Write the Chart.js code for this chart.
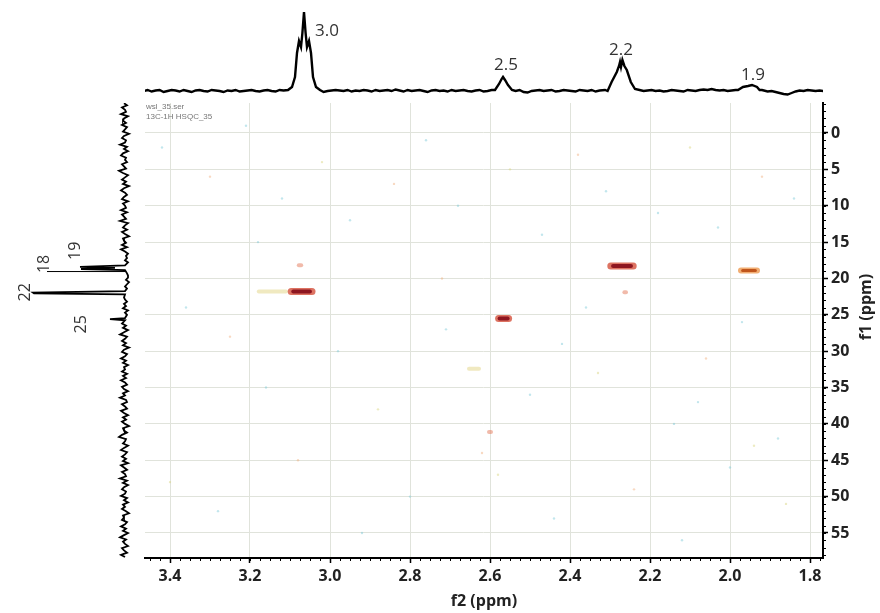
<!DOCTYPE html>
<html><head><meta charset="utf-8">
<script src="https://cdn.jsdelivr.net/npm/chart.js@4.4.1/dist/chart.umd.min.js"></script>
<style>
html,body{margin:0;padding:0;background:#fff;}
#wrap{position:relative;width:880px;height:613px;overflow:hidden;background:#fff;}
canvas{position:absolute;}
#main{left:0;top:0;width:880px;height:613px;}
#top{left:145px;top:0;width:678px;height:103px;}
#left{left:0;top:103px;width:145px;height:455px;}
</style></head><body>
<div id="wrap">
<canvas id="main" width="880" height="613"></canvas>
<canvas id="top" width="678" height="103"></canvas>
<canvas id="left" width="145" height="455"></canvas>
</div>
<script>
// ---------- axes ----------
const f2Ticks = [3.4, 3.2, 3.0, 2.8, 2.6, 2.4, 2.2, 2.0, 1.8];
const f1Ticks = [0, 5, 10, 15, 20, 25, 30, 35, 40, 45, 50, 55];
const f2Min = 1.7675, f2Max = 3.4625;
const f1Min = -4.125, f1Max = 58.44;
const fileLines = ['wsl_35.ser', '13C-1H HSQC_35'];

// ---------- 2D cross peaks (f2 ppm, f1 ppm, f2 extent, relative level) ----------
const crossF2 = [3.071, 3.075, 2.566, 2.270, 1.9525, 2.262, 2.640, 2.600, 3.144];
const crossF1 = [21.8, 18.2, 25.5, 18.3, 18.9, 21.9, 32.4, 41.1, 21.8];
const crossSpan = [0.052, 0.006, 0.025, 0.056, 0.040, 0.004, 0.025, 0.005, 0.068];
const crossLevel = [1.0, 0.3, 0.95, 1.0, 0.6, 0.3, 0.1, 0.25, 0.08];

// faint noise specks in the 2D map
const speckF2 = [3.42,3.30,3.21,3.12,3.02,2.95,2.84,2.76,2.68,2.55,2.47,2.38,2.31,2.18,2.10,2.03,1.92,1.84,3.36,3.25,3.16,2.98,2.88,2.71,2.62,2.50,2.42,2.33,2.14,2.06,1.97,1.88,3.40,3.28,3.08,2.92,2.80,2.58,2.44,2.24,2.12,2.00,1.86,3.18,2.72,2.36,2.08,1.94];
const speckF1 = [2,6,-1,9,4,12,7,1,10,5,14,3,8,11,2,13,6,9,24,28,35,30,38,27,44,36,29,33,40,31,26,42,48,52,45,55,50,47,53,49,56,46,51,15,20,24,37,43];
const speckKind = [0,1,0,0,2,0,1,0,0,2,0,1,0,0,2,0,1,0,0,1,0,0,2,0,1,0,0,2,0,1,0,0,2,0,1,0,0,2,0,1,0,0,2,0,1,0,0,2];

// ---------- top 1H projection ----------
const topStart = 3.466, topStep = -0.01;
const topNoise = [0,1,-0.5,0.5,1,-1,0,1,0.5,-0.5,
  1,0,-1,0.5,1,0,-0.5,1,0.5,0,
  -1,0.5,0,1,-0.5,0,0.5,1,0,-0.5,
  0.5,1,0,-0.5,1,0.5,-1,0,1,0.5,
  0,-0.5,1,0,0.5,-1,0,0.5,1,0.5,
  0,1,-0.5,0.5,0,1,0.5,-0.5,1,0,
  0.5,1,0,1.5,0.5,-0.5,1,0,0.5,1,
  0,-1,0.5,1,0,0.5,-0.5,1,0,0.5,
  1,0,-0.5,0.5,1,-0.5,0,1,0.5,0,
  -0.5,1,0.5,0,1,-1,-1.5,0,0.5,1,
  0,0.5,1,-0.5,0,1,0.5,0,-0.5,1,
  0.5,0,1,-0.5,0.5,1,0,0.5,-1,0,
  1,0.5,0,-0.5,1,0,0.5,1,0,0.5,
  -0.5,0,1,0.5,0,-0.5,1,0.5,0,1,
  1.5,1,2,1,0.5,1,0,0.5,1,0,
  0.5,1,0,0.5,1,0.5,-0.5,0,-1,-2,
  -3,-3.5,-2,-0.5,0.5,0,1,0.5,0,0.5,
  0];
const topPeakPpm = [3.105,3.095,3.0875,3.0825,3.0775,3.0725,3.069,3.065,3.061,3.0575,3.0525,3.0475,3.0425,3.035,3.025,
  2.5875,2.5775,2.571,2.5675,2.5625,2.555,2.545,
  2.3125,2.296,2.283,2.2775,2.275,2.2725,2.269,2.264,2.258,2.248,2.2375,
  1.98,1.9675,1.955,1.945,1.9325,1.92];
const topPeakInt = [1,4,14,38,50,44,58,79,58,44,50,38,14,4,1,
  1,7,12,14,11,6,1,
  1,9,19,25,29,24,31,25,21,9,2,
  1,4,5,6,4,1];
const topLabelText = ['3.0', '2.5', '2.2', '1.9'];
const topLabelPpm = [3.0075, 2.56, 2.2725, 1.9425];
const topLabelInt = [60, 26, 41, 16];

// ---------- left 13C projection ----------
const leftStart = -4.1, leftStep = 0.3;
const leftNoise = [1,-2,3,0,-1,4,-3,1,2,-1,
  3,-2,0,2,-4,1,3,-1,0,5,
  -2,1,-3,2,4,-1,0,-2,3,1,
  -1,6,2,-3,0,3,-1,2,-4,1,
  4,0,-2,1,3,-3,2,0,-1,4,
  -2,3,1,-1,5,-3,0,2,-2,3,
  0,-4,2,1,-1,3,-2,4,0,-3,
  -1,-2,0,-3,-2,-1,-3,-4,-2,-3,
  -3,-1,-4,-2,0,-2,-3,-1,-2,1,
  0,-2,1,-1,2,-3,0,-2,1,-1,
  0,3,-1,2,-3,1,5,-2,0,3,
  -1,2,-4,1,3,-2,0,4,-1,2,
  -3,1,0,3,-2,2,-1,4,0,-2,
  3,1,-3,2,0,5,-1,-2,3,0,
  -2,4,1,-3,2,-1,3,0,-4,2,
  1,-2,3,6,-1,0,2,-3,1,4,
  -2,0,3,-1,2,-3,4,1,-2,3,
  0,-1,5,-2,2,-3,1,3,-1,0,
  4,-2,1,-3,2,0,3,-1,-4,2,
  1,3,-2,0,4,-1,2,-3,1,5,
  -1,2,0,-3,3,1,-2,4,0];
const leftPeakF1 = [18.2,18.4,18.55,18.7,18.85, 21.75,21.95,22.05,22.2, 25.45,25.6,25.75];
const leftPeakInt = [0,45,10,44,0, 0,92,91,0, 0,15,0];
const leftStickF1 = [19.05];
const leftStickInt = [78];
const leftLabelText = ['22', '18', '19', '25'];
const leftLabelF1 = [21.9, 18.0, 16.2, 26.3];
const leftLabelInt = [100, 81, 50, 44];

// ---------- helpers ----------
function buildSeries(start, step, noise, peakPos, peakInt, tol) {
  const pts = [];
  noise.forEach((v, i) => {
    const p = start + step * i;
    if (!peakPos.some(q => Math.abs(q - p) < tol)) pts.push([p, v]);
  });
  peakPos.forEach((p, i) => pts.push([p, peakInt[i]]));
  pts.sort((a, b) => a[0] - b[0]);
  return pts;
}
const FONT = '"Open Sans", "Liberation Sans", sans-serif';
const baseOpts = {
  responsive: false, animation: false, devicePixelRatio: 1,
  plugins: { legend: { display: false }, tooltip: { enabled: false } },
  layout: { padding: 0 }
};

// ---------- main 2D chart ----------
const mainDatasets = [];
const speckColors = ['rgba(120,200,215,0.45)', 'rgba(240,170,120,0.45)', 'rgba(215,210,120,0.45)'];
mainDatasets.push({
  data: speckF2.map((v, i) => ({ x: v, y: speckF1[i] })),
  pointRadius: 1.2, pointBorderWidth: 0,
  pointBackgroundColor: speckKind.map(k => speckColors[k]),
  order: 5
});
crossF2.forEach((f2, i) => {
  const lv = crossLevel[i], half = crossSpan[i] / 2, f1 = crossF1[i];
  let glowCol, glowW, coreCol = null, coreW = 0;
  if (lv >= 0.9) { glowCol = 'rgba(215,90,70,0.85)'; glowW = 7; coreCol = '#8e1620'; coreW = 4; }
  else if (lv >= 0.5) { glowCol = 'rgba(238,160,90,0.85)'; glowW = 6; coreCol = '#c0561c'; coreW = 3; }
  else if (lv >= 0.2) { glowCol = 'rgba(230,130,100,0.55)'; glowW = 4; }
  else { glowCol = 'rgba(228,215,140,0.55)'; glowW = 4; }
  mainDatasets.push({
    data: [{ x: f2 + half, y: f1 }, { x: f2 - half, y: f1 }],
    showLine: true, pointRadius: 0, borderColor: glowCol, borderWidth: glowW,
    borderCapStyle: 'round', order: lv < 0.2 ? 4 : 3
  });
  if (coreCol) {
    const h2 = half * 0.8;
    mainDatasets.push({
      data: [{ x: f2 + h2, y: f1 }, { x: f2 - h2, y: f1 }],
      showLine: true, pointRadius: 0, borderColor: coreCol, borderWidth: coreW,
      borderCapStyle: 'round', order: 1
    });
  }
});

const tickFont = { family: FONT, size: 16, weight: 'bold' };
const mainDecor = {
  id: 'mainDecor',
  afterDraw(chart) {
    const { ctx, chartArea: a, scales: { x, y } } = chart;
    ctx.save();
    ctx.strokeStyle = '#000'; ctx.lineWidth = 1;
    ctx.beginPath();
    for (let k = 0; k < 70; k++) {
      const v = 3.45 - 0.025 * k;
      if (v < f2Min) break;
      const px = Math.round(x.getPixelForValue(v)) + 0.5;
      ctx.moveTo(px, a.bottom); ctx.lineTo(px, a.bottom + 3);
    }
    for (let v = -4; v <= 58; v++) {
      const py = Math.round(y.getPixelForValue(v)) + 0.5;
      ctx.moveTo(a.right, py); ctx.lineTo(a.right + 3, py);
    }
    ctx.stroke();
    ctx.fillStyle = '#222'; ctx.font = 'bold 16px ' + FONT;
    ctx.textAlign = 'center'; ctx.textBaseline = 'middle';
    ctx.translate(a.right + 43, a.top + 204);
    ctx.rotate(-Math.PI / 2);
    ctx.fillText('f1 (ppm)', 0, 0);
    ctx.restore();
    ctx.save();
    ctx.fillStyle = '#777'; ctx.font = '8px "Liberation Sans", sans-serif';
    ctx.textAlign = 'left'; ctx.textBaseline = 'middle';
    ctx.fillText(fileLines[0], a.left + 1, a.top + 4);
    ctx.fillText(fileLines[1], a.left + 1, a.top + 14);
    ctx.restore();
  }
};

new Chart(document.getElementById('main'), {
  type: 'scatter',
  data: { datasets: mainDatasets },
  options: Object.assign({}, baseOpts, {
    layout: { padding: { left: 145, top: 103, right: 0, bottom: 0 } },
    scales: {
      x: {
        type: 'linear', position: 'bottom', reverse: true, min: f2Min, max: f2Max,
        afterBuildTicks: s => { s.ticks = f2Ticks.map(v => ({ value: v })); },
        afterFit: s => { s.height = 55; },
        ticks: { callback: v => Number(v).toFixed(1), font: tickFont, color: '#222', padding: 4, maxRotation: 0, autoSkip: false },
        grid: { color: '#e0e3db', lineWidth: 1, tickLength: 5, tickColor: '#000', tickWidth: 1.5 },
        border: { color: '#000', width: 2 },
        title: { display: true, text: 'f2 (ppm)', font: { family: FONT, size: 16, weight: 'bold' }, color: '#222', padding: { top: 0, bottom: 2 } }
      },
      y: {
        type: 'linear', position: 'right', reverse: true, min: f1Min, max: f1Max,
        afterBuildTicks: s => { s.ticks = f1Ticks.map(v => ({ value: v })); },
        afterFit: s => { s.width = 57; },
        ticks: { callback: v => String(v), font: tickFont, color: '#222', padding: 3, autoSkip: false },
        grid: { color: '#e0e3db', lineWidth: 1, tickLength: 5, tickColor: '#000', tickWidth: 1.5 },
        border: { color: '#000', width: 2 }
      }
    }
  }),
  plugins: [mainDecor]
});

// ---------- top projection ----------
const topPts = buildSeries(topStart, topStep, topNoise, topPeakPpm, topPeakInt, 0.006);
const topLabels = {
  id: 'topLabels',
  afterDraw(chart) {
    const { ctx, scales: { x, y } } = chart;
    ctx.save();
    ctx.fillStyle = '#333'; ctx.font = '17px ' + FONT;
    ctx.textAlign = 'center'; ctx.textBaseline = 'middle';
    topLabelText.forEach((t, i) => ctx.fillText(t, x.getPixelForValue(topLabelPpm[i]), y.getPixelForValue(topLabelInt[i])));
    ctx.restore();
  }
};
new Chart(document.getElementById('top'), {
  type: 'scatter',
  data: { datasets: [{ data: topPts.map(p => ({ x: p[0], y: p[1] })), showLine: true, pointRadius: 0, borderColor: '#000', borderWidth: 2.4, clip: false }] },
  options: Object.assign({}, baseOpts, {
    scales: {
      x: { type: 'linear', display: false, reverse: true, min: f2Min, max: f2Max },
      y: { type: 'linear', display: false, min: -12, max: 91 }
    }
  }),
  plugins: [topLabels]
});

// ---------- left projection ----------
const leftPts = buildSeries(leftStart, leftStep, leftNoise, leftPeakF1, leftPeakInt, 0.2);
const leftLabels = {
  id: 'leftLabels',
  afterDraw(chart) {
    const { ctx, scales: { x, y } } = chart;
    ctx.save();
    ctx.fillStyle = '#333'; ctx.font = '16px ' + FONT;
    ctx.textAlign = 'center'; ctx.textBaseline = 'middle';
    leftLabelText.forEach((t, i) => {
      ctx.save();
      ctx.translate(x.getPixelForValue(leftLabelInt[i]), y.getPixelForValue(leftLabelF1[i]));
      ctx.rotate(-Math.PI / 2);
      ctx.fillText(t, 0, 0);
      ctx.restore();
    });
    ctx.restore();
  }
};
new Chart(document.getElementById('left'), {
  type: 'scatter',
  data: {
    datasets: [
      { data: leftPts.map(p => ({ x: p[1], y: p[0] })), showLine: true, pointRadius: 0, borderColor: '#000', borderWidth: 1.8, clip: false },
      { data: leftStickF1.flatMap((f, i) => [{ x: 0, y: f }, { x: leftStickInt[i], y: f }]), showLine: true, pointRadius: 0, borderColor: '#000', borderWidth: 1, clip: false }
    ]
  },
  options: Object.assign({}, baseOpts, {
    scales: {
      x: { type: 'linear', display: false, reverse: true, min: -20, max: 125 },
      y: { type: 'linear', display: false, reverse: true, min: f1Min, max: f1Max }
    }
  }),
  plugins: [leftLabels]
});
</script>
</body></html>
